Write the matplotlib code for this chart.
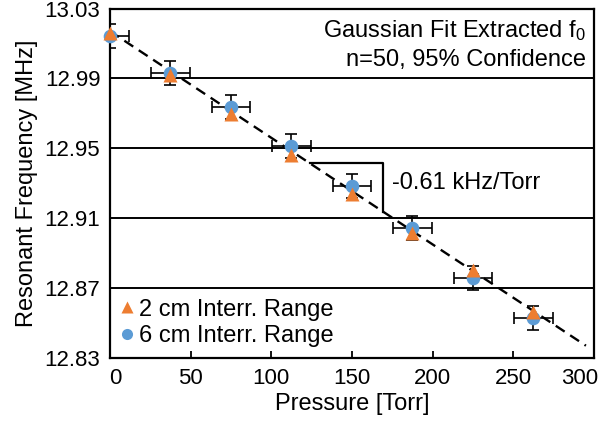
import matplotlib
matplotlib.use("Agg")
import matplotlib.pyplot as plt
import matplotlib.transforms as mtransforms
import numpy as np
from matplotlib.lines import Line2D

plt.rcParams['font.family'] = ['Liberation Sans', 'DejaVu Sans']
plt.rcParams['mathtext.default'] = 'regular'

# Measurements: pressure steps and extracted resonant frequency (MHz)
pressure = [0.0, 37.5, 75.0, 112.5, 150.0, 187.5, 225.0, 262.5]
freq_2cm = [13.0160, 12.9919, 12.9694, 12.9462, 12.9240, 12.9014, 12.8801, 12.8566]
freq_6cm = [13.0142, 12.9932, 12.9738, 12.9515, 12.9285, 12.9046, 12.8757, 12.8529]
pressure_err = 12.0
freq_err_6cm = 0.0069

# Linear fit: slope in MHz/Torr (-0.61 kHz/Torr)
fit_slope = -0.00061
fit_intercept = 13.017
fit_range = [0.0, 295.0]

yticks = [12.83, 12.87, 12.91, 12.95, 12.99, 13.03]
xticks = [0, 50, 100, 150, 200, 250, 300]

orange = '#ED7D31'
blue = '#5B9BD5'
FS = 17
TS = 16

fig = plt.figure(figsize=(6.02, 4.21), dpi=100)
ax = fig.add_axes([0.1827, 0.1496, 0.8040, 0.8302])

ax.set_xlim(0, 300)
ax.set_ylim(12.83, 13.03)

# Horizontal reference lines at each interior y tick
for y in yticks[1:-1]:
    ax.axhline(y, color='black', lw=1.4, zorder=1)

# Fit line
xf = np.array(fit_range)
ax.plot(xf, fit_intercept + fit_slope * xf, color='black', lw=1.7,
        linestyle=(0, (4.5, 2.8)), zorder=2)

# Slope triangle
y_top = 12.9414
x_left = (y_top - fit_intercept) / fit_slope
x_right = 169.4
ax.plot([x_left, x_right, x_right],
        [y_top, y_top, fit_intercept + fit_slope * x_right],
        color='black', lw=1.6, zorder=2)
ax.text(174.8, 12.930, '-0.61 kHz/Torr', fontsize=FS, va='center', ha='left')

# Data with error bars
ax.errorbar(pressure, freq_6cm, xerr=pressure_err, yerr=freq_err_6cm,
            fmt='none', ecolor='black', elinewidth=1.2, capsize=4,
            capthick=1.2, zorder=3)
ax.plot(pressure, freq_6cm, 'o', color=blue, ms=9.8, mec='none',
        zorder=4, clip_on=False)
ax.plot(pressure, freq_2cm, '^', color=orange, ms=9.8, mec='none',
        zorder=5, clip_on=False)

ax.set_yticks(yticks)
ax.set_yticklabels([f'{v:.2f}' for v in yticks])
ax.set_xticks(xticks)
ax.tick_params(axis='y', length=0, pad=7, labelsize=TS)
ax.tick_params(axis='x', direction='in', length=5, width=1.3, pad=7,
               labelsize=TS)

# Keep the end x labels inside the figure
labels = ax.get_xticklabels()
labels[0].set_transform(labels[0].get_transform() +
                        mtransforms.ScaledTranslation(0.05, 0, fig.dpi_scale_trans))
labels[-1].set_transform(labels[-1].get_transform() +
                         mtransforms.ScaledTranslation(-0.14, 0, fig.dpi_scale_trans))

for s in ax.spines.values():
    s.set_linewidth(1.6)
    s.set_color('black')

ax.set_xlabel('Pressure [Torr]', fontsize=FS, labelpad=3)
ax.set_ylabel('Resonant Frequency [MHz]', fontsize=FS, labelpad=5)

ax.text(0.983, 0.938, 'Gaussian Fit Extracted f$_0$', transform=ax.transAxes,
        ha='right', va='center', fontsize=FS)
ax.text(0.983, 0.852, 'n=50, 95% Confidence', transform=ax.transAxes,
        ha='right', va='center', fontsize=FS)

handles = [Line2D([], [], marker='^', color=orange, ls='none', ms=8, mec='none'),
           Line2D([], [], marker='o', color=blue, ls='none', ms=8, mec='none')]
ax.legend(handles, ['2 cm Interr. Range', '6 cm Interr. Range'],
          loc='lower left', bbox_to_anchor=(0.0, 0.0), frameon=False,
          fontsize=FS, handlelength=0.5, handletextpad=0.3,
          labelspacing=0.2, borderaxespad=0.15, borderpad=0.3)

fig.savefig('out.png', dpi=100)
